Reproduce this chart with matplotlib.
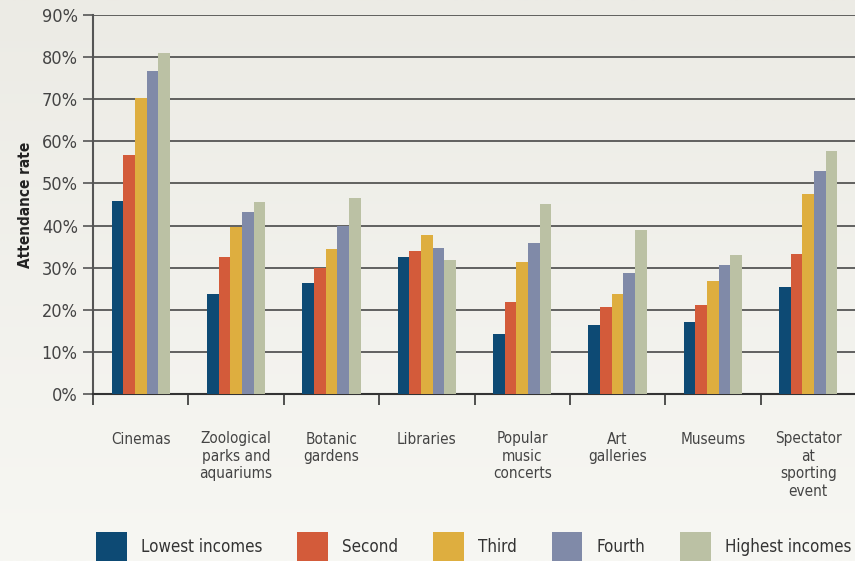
import matplotlib
matplotlib.use("Agg")
import matplotlib.pyplot as plt
import numpy as np

plt.rcParams['font.family'] = ['DejaVu Sans']
plt.rcParams['font.stretch'] = 'condensed'

# Dados
categories = ["Cinemas", "Zoological\nparks and\naquariums", "Botanic\ngardens",
              "Libraries", "Popular\nmusic\nconcerts", "Art\ngalleries",
              "Museums", "Spectator\nat\nsporting\nevent"]
groups = ["Lowest incomes", "Second", "Third", "Fourth", "Highest incomes"]
lowest = [45.8, 23.8, 26.4, 32.5, 14.3, 16.4, 17.1, 25.4]
second = [56.8, 32.5, 30.0, 34.0, 21.9, 20.7, 21.1, 33.3]
third = [70.2, 39.6, 34.4, 37.8, 31.4, 23.8, 26.8, 47.5]
fourth = [76.7, 43.2, 39.9, 34.7, 35.9, 28.7, 30.6, 53.0]
highest = [81.0, 45.6, 46.6, 31.8, 45.1, 38.9, 33.0, 57.7]
series = [lowest, second, third, fourth, highest]
colors = ["#0d4a74", "#d35b3a", "#deae3f", "#808aa8", "#bbc1a4"]

fig = plt.figure(figsize=(8.55, 5.61), dpi=100)

# fundo em degradê
bg = fig.add_axes([0, 0, 1, 1], zorder=-1)
grad = np.linspace(0, 1, 256).reshape(-1, 1)
cmap = matplotlib.colors.LinearSegmentedColormap.from_list("bg", ["#ecebe5", "#f7f7f3"])
bg.imshow(grad, aspect="auto", cmap=cmap, extent=[0, 1, 0, 1])
bg.axis("off")

ax = fig.add_axes([93 / 855, 1 - 394 / 561, 763 / 855, 379 / 561])
ax.set_facecolor("none")

x = np.arange(len(categories)) + 0.5
w = 0.122
bars = []
for i, (vals, c) in enumerate(zip(series, colors)):
    b = ax.bar(x + (i - 2) * w, vals, width=w, color=c, label=groups[i], zorder=3)
    bars.append(b)

ax.set_xlim(0, 8)
ax.set_ylim(0, 90)
ax.set_yticks(np.arange(0, 91, 10))
ax.set_yticklabels([f"{v}%" for v in range(0, 91, 10)], fontsize=13, color="#444444")
ax.yaxis.grid(True, color="#3a3a3a", linewidth=1.1, zorder=0)
ax.tick_params(axis="y", length=7, width=1.2, color="#555555", pad=4)

ax.set_xticks(x)
ax.set_xticklabels(categories, fontsize=11, color="#444444", linespacing=1.2, va="top")
ax.set_xticks(np.arange(0, 9), minor=True)
ax.tick_params(axis="x", which="major", length=0, pad=27)
ax.tick_params(axis="x", which="minor", length=8, width=1.2, color="#333333")

for s in ["top", "right"]:
    ax.spines[s].set_visible(False)
ax.spines["left"].set_color("#555555")
ax.spines["left"].set_linewidth(1.5)
ax.spines["bottom"].set_color("#333333")
ax.spines["bottom"].set_linewidth(1.5)

ax.set_ylabel("Attendance rate", fontsize=11, fontweight="bold", color="#222222")
ax.yaxis.set_label_coords(-60 / 763, 0.5)

fig.legend(handles=bars, labels=groups, loc="lower left", bbox_to_anchor=(89 / 855, -8 / 561),
           ncol=5, frameon=False, fontsize=12.2, handlelength=1.82, handleheight=2.35,
           handletextpad=0.85, columnspacing=2.04, labelcolor="#333333", borderaxespad=0)

fig.savefig("out.png", dpi=100)
